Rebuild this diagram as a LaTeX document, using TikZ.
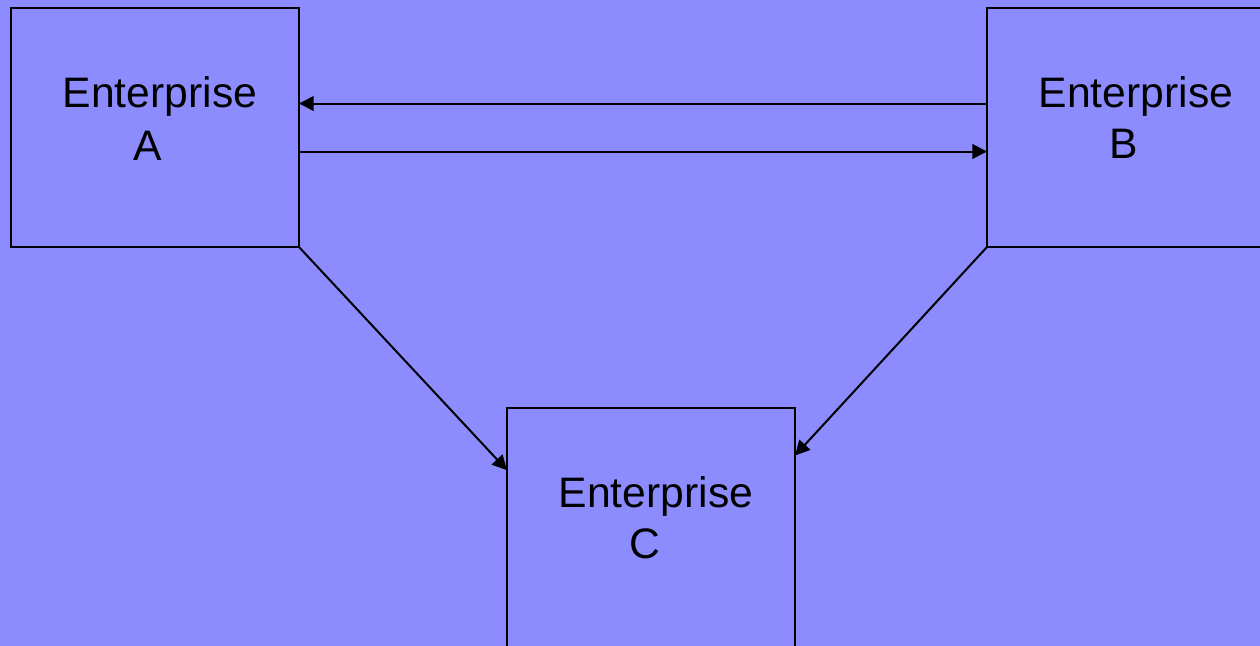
\documentclass[tikz,border=0pt]{standalone}
\usepackage{fontspec}
\setmainfont{Liberation Sans}
\usetikzlibrary{arrows.meta}
\definecolor{bg}{RGB}{140,140,255}
\tikzset{
  box/.style={draw=black, line width=1.5pt, rectangle, inner sep=0pt, outer sep=0pt,
    minimum width=216pt, minimum height=179.25pt},
  lbl/.style={anchor=base, inner sep=0pt, font=\fontsize{32}{38}\selectfont},
  arr/.style={line width=1.5pt, -{Triangle[length=11pt,width=11pt]}}
}
\begin{document}
\begin{tikzpicture}[x=0.75pt,y=-0.75pt]
\fill[bg] (0,0) rectangle (1260,646);
\useasboundingbox (0,0) rectangle (1260,646);
\clip (0,0) rectangle (1260,646);
\node[box] (A) at (155,127.5) {};
\node[box] (B) at (1131,127.5) {};
\node[box] (C) at (651,527.5) {};
\node[lbl] (A1) at (160,107) {Enterprise};
\node[lbl] (A2) at (148,160) {A};
\node[lbl] (B1) at (1136,107) {Enterprise};
\node[lbl] (B2) at (1124,158) {B};
\node[lbl] (C1) at (656,507) {Enterprise};
\node[lbl] (C2) at (645,558) {C};
\draw[arr] ([yshift=18pt]B.west) -- ([yshift=18pt]A.east);
\draw[arr] ([yshift=-18pt]A.east) -- ([yshift=-18pt]B.west);
\draw[arr] (A.south east) -- ([yshift=43pt]C.west);
\draw[arr] (B.south west) -- ([yshift=54pt]C.east);
\end{tikzpicture}
\end{document}
